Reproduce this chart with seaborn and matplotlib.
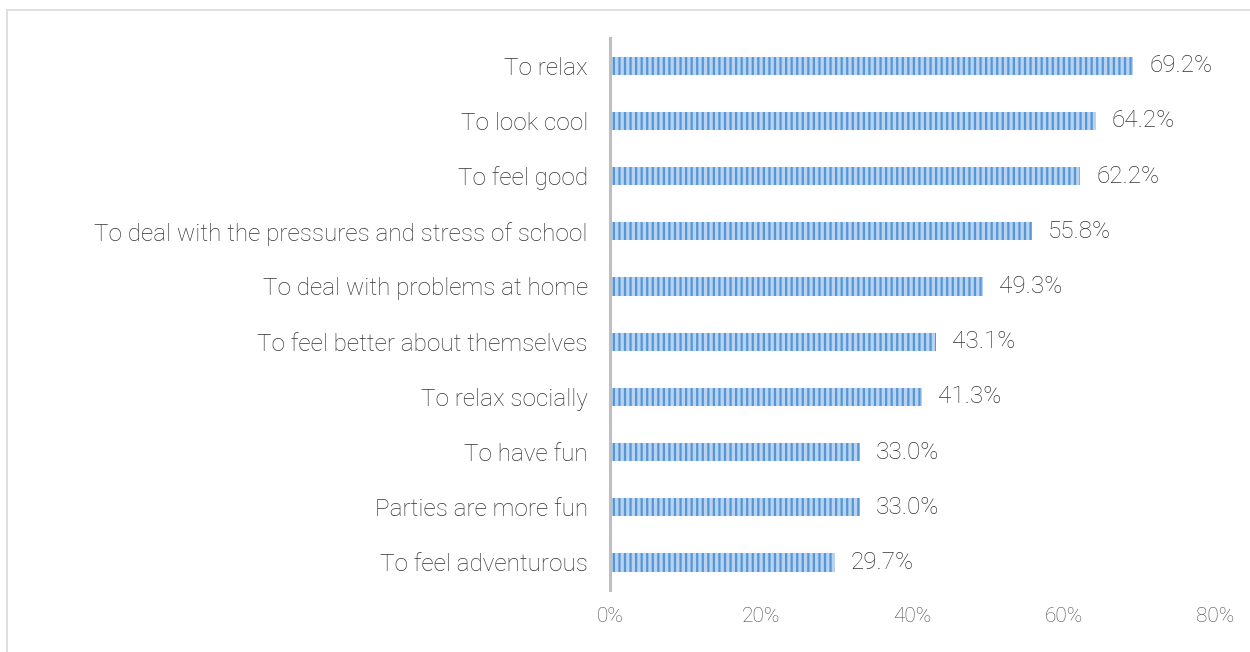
import matplotlib
matplotlib.use("Agg")
import matplotlib.pyplot as plt
import seaborn as sns
import pandas as pd
from matplotlib.patches import Rectangle
from matplotlib.ticker import FuncFormatter

reasons = [
    "To relax",
    "To look cool",
    "To feel good",
    "To deal with the pressures and stress of school",
    "To deal with problems at home",
    "To feel better about themselves",
    "To relax socially",
    "To have fun",
    "Parties are more fun",
    "To feel adventurous",
]
shares = [69.2, 64.2, 62.2, 55.8, 49.3, 43.1, 41.3, 33.0, 33.0, 29.7]
x_ticks = [0, 20, 40, 60, 80]

df = pd.DataFrame({"reason": reasons, "share": shares})

sns.set_theme(style="white")
plt.rcParams["font.family"] = ["Roboto", "DejaVu Sans"]
plt.rcParams["hatch.linewidth"] = 1.6

fig = plt.figure(figsize=(12.5, 6.52), dpi=100)
ax = fig.add_axes([0.488, 0.095, 0.484, 0.8467])

sns.barplot(data=df, x="share", y="reason", ax=ax, color="#b8d2ef",
            width=0.33, saturation=1)
for bar in ax.patches:
    bar.set_hatch("|||")
    bar.set_edgecolor("#5597d6")
    bar.set_linewidth(0)

for bar, v in zip(ax.patches, shares):
    ax.text(bar.get_width() + 2.1, bar.get_y() + bar.get_height() / 2,
            f"{v:.1f}%", va="center", ha="left", fontsize=17.5,
            color="#333333", fontweight="light")

ax.set_xlim(0, 80)
ax.set_xticks(x_ticks)
ax.xaxis.set_major_formatter(FuncFormatter(lambda v, _: f"{v:.0f}%"))
ax.set_xlabel("")
ax.set_ylabel("")
ax.tick_params(axis="x", length=0, labelsize=15, labelcolor="#4d4d4d", pad=12)
ax.tick_params(axis="y", length=0, labelsize=17.5, labelcolor="#333333", pad=16)
for lab in ax.get_xticklabels() + ax.get_yticklabels():
    lab.set_fontweight("light")

for side in ["top", "right", "bottom"]:
    ax.spines[side].set_visible(False)
ax.spines["left"].set_color("#bfbfbf")
ax.spines["left"].set_linewidth(2.2)

# chart area frame
fig.patches.append(Rectangle((7 / 1250, -0.05), 1.2, 1 - 10 / 652 + 0.05,
                             transform=fig.transFigure, fill=False,
                             edgecolor="#d9d9d9", linewidth=1.2))

fig.savefig("out.png", dpi=100, facecolor="white")
